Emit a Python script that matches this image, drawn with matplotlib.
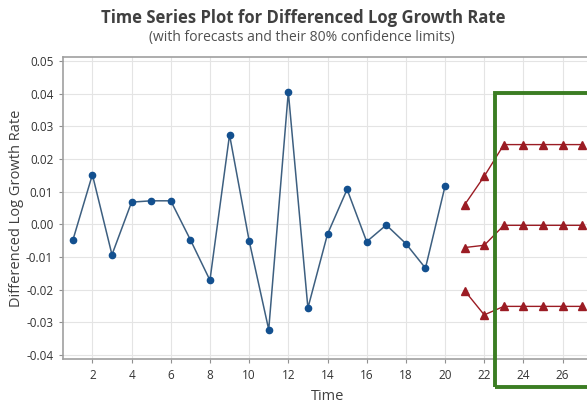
import matplotlib
matplotlib.use("Agg")
import matplotlib.pyplot as plt
from matplotlib.patches import Rectangle

plt.rcParams['font.family'] = ['Open Sans', 'DejaVu Sans']

time = list(range(1, 21))
values = [-0.0049, 0.0152, -0.0093, 0.0068, 0.0072, 0.0072, -0.0047, -0.0171,
          0.0274, -0.0050, -0.0322, 0.0405, -0.0256, -0.0030, 0.0107, -0.0053,
          -0.0002, -0.0059, -0.0134, 0.0117]
fc_time = list(range(21, 28))
fc_upper = [0.0060, 0.0147, 0.0244, 0.0244, 0.0244, 0.0244, 0.0244]
fc_mid = [-0.0071, -0.0064, -0.0003, -0.0003, -0.0003, -0.0003, -0.0003]
fc_lower = [-0.0203, -0.0277, -0.0251, -0.0251, -0.0251, -0.0251, -0.0251]
xticks = list(range(2, 28, 2))
yticks = [-0.04, -0.03, -0.02, -0.01, 0.00, 0.01, 0.02, 0.03, 0.04, 0.05]

W, H = 587, 403
fig = plt.figure(figsize=(W / 100, H / 100), dpi=100)
left, right, top, bottom = 63, 592, 57, 359
ax = fig.add_axes([left / W, 1 - bottom / H, (right - left) / W, (bottom - top) / H])

ax.plot(time, values, color='#3d5f80', lw=1.1, marker='o', ms=4.5,
        mfc='#13508f', mec='#13508f', zorder=3)
red = '#9b1c24'
for series in (fc_upper, fc_mid, fc_lower):
    ax.plot(fc_time, series, color=red, lw=1.0, marker='^', ms=5.5,
            mfc=red, mec=red, zorder=3)

ax.set_xlim(0.5, 27.5)
ax.set_ylim(-0.0412, 0.0512)
ax.set_xticks(xticks)
ax.set_yticks(yticks)
ax.set_yticklabels([f"{v:.2f}" for v in yticks])
ax.grid(True, color='#e4e4e4', lw=0.8)
ax.set_axisbelow(True)
for s in ax.spines.values():
    s.set_color('#a0a0a0')
    s.set_linewidth(1.2)
ax.tick_params(colors='#333333', labelsize=8.5, length=3, width=0.8, pad=4)
ax.tick_params(axis='both', color='#909090')

ax.set_xlabel('Time', fontsize=10.5, color='#404040', labelpad=5)
ax.set_ylabel('Differenced Log Growth Rate', fontsize=10.5, color='#404040')
ax.yaxis.set_label_coords((24 - left) / (right - left), 0.5)

fig.text(0.516, 1 - 18 / H, 'Time Series Plot for Differenced Log Growth Rate',
         ha='center', va='center', fontsize=12, fontweight='bold', color='#404040')
fig.text(0.515, 1 - 38 / H, '(with forecasts and their 80% confidence limits)',
         ha='center', va='center', fontsize=10, color='#505050')

rect = Rectangle((495 / W, 1 - 387 / H), (600 - 495) / W, (387 - 93) / H,
                 transform=fig.transFigure, fill=False, edgecolor='#3b7d23',
                 lw=2.8, zorder=10)
fig.patches.append(rect)

fig.savefig('out.png', dpi=100)
